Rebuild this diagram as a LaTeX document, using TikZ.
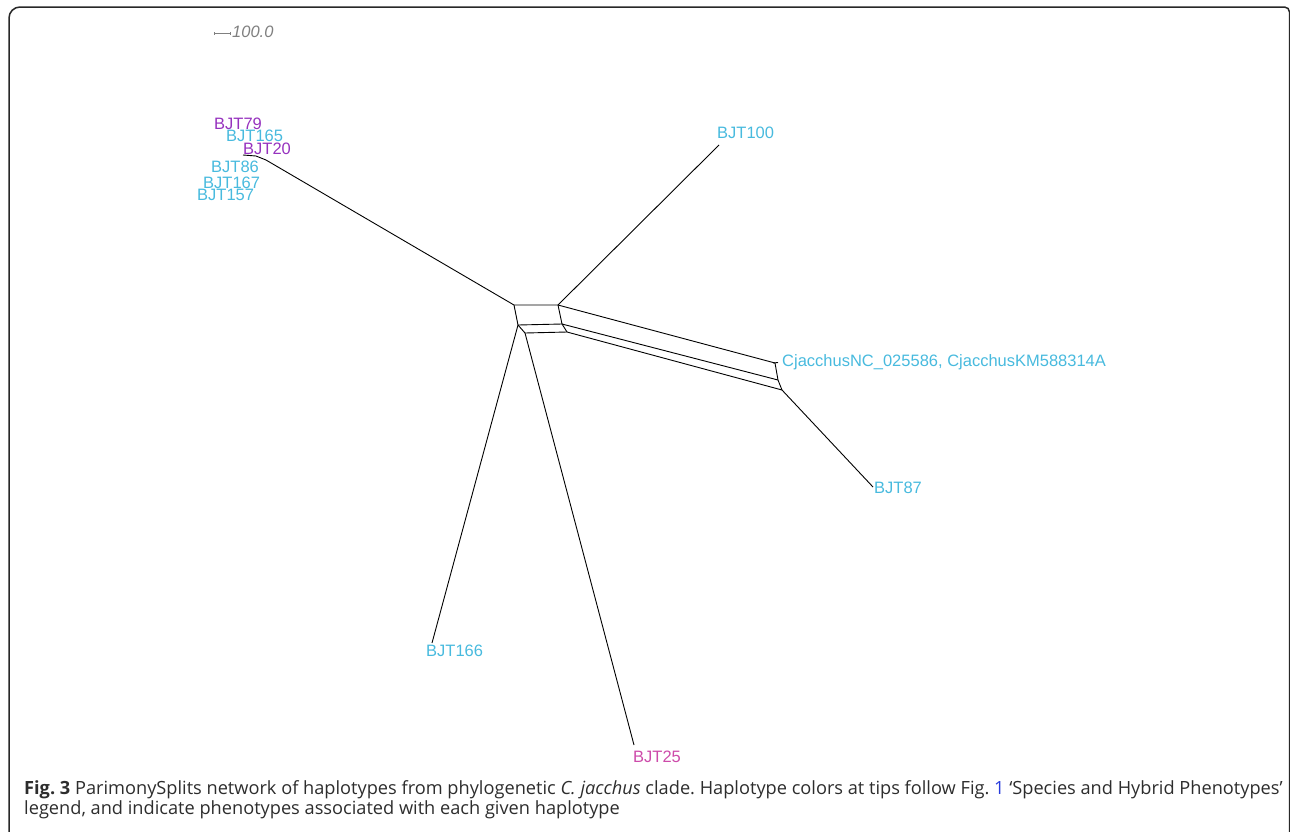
\documentclass[tikz,border=0pt]{standalone}
\usepackage{fontspec}
\setmainfont{Liberation Sans}
\newfontfamily\capfont{Open Sans}
\frenchspacing
\definecolor{tipcyan}{RGB}{72,186,222}
\definecolor{tippurple}{RGB}{150,50,190}
\definecolor{tippink}{RGB}{205,75,170}
\definecolor{capgray}{RGB}{45,45,45}
\definecolor{linkblue}{RGB}{40,60,220}
\definecolor{framegray}{RGB}{40,40,40}
\tikzset{
  net/.style={black, line width=0.9pt},
  tip/.style={anchor=base west, inner sep=0pt, font=\fontsize{16.5}{18}\selectfont},
  cyantip/.style={tip, text=tipcyan},
  purpletip/.style={tip, text=tippurple},
  pinktip/.style={tip, text=tippink},
  captext/.style={anchor=base west, inner sep=0pt, text=capgray, font=\capfont\fontsize{18.2}{20}\selectfont}
}
\begin{document}
\begin{tikzpicture}[x=1pt,y=-1pt]
\useasboundingbox (0,0) rectangle (1290,831);
\begin{scope}
\clip (0,0) rectangle (1290,831);
\draw[framegray, line width=1.5pt] (9,850) [rounded corners=11pt] -- (9,7) -- (700,7) [rounded corners=5pt] -- (1289.5,7) -- (1289.5,850);
\end{scope}
% scale bar
\coordinate (sb1) at (214,33);
\coordinate (sb2) at (230,33);
\draw[gray, line width=0.8pt] (sb1) -- (sb2);
\draw[gray, line width=0.6pt] ([yshift=-1.5pt]sb1) -- ([yshift=1.5pt]sb1);
\draw[gray, line width=0.6pt] ([yshift=-1.5pt]sb2) -- ([yshift=1.5pt]sb2);
\node[tip, text=gray, font=\fontsize{16.5}{18}\selectfont\itshape] (sbl) at (232,37) {100.0};
% network vertices
\coordinate (A) at (514,305);
\coordinate (B) at (558,305);
\coordinate (C) at (518,325);
\coordinate (D) at (562,324);
\coordinate (E) at (525,333);
\coordinate (F) at (567,332);
\coordinate (G) at (775,363);
\coordinate (H) at (778,380);
\coordinate (I) at (782,390);
\coordinate (P1) at (266,160);
\coordinate (P2) at (256,156);
\coordinate (P3) at (243,155);
\coordinate (Gt) at (778,362.5);
\coordinate (t100) at (719,145);
\coordinate (t87) at (873,487);
\coordinate (t166) at (432,643);
\coordinate (t25) at (634,745);
% labels
\node[purpletip] (l79) at (214,129) {BJT79};
\node[cyantip] (l165) at (226,141) {BJT165};
\node[purpletip] (l20) at (243,154) {BJT20};
\node[cyantip] (l86) at (211,172) {BJT86};
\node[cyantip] (l167) at (203,188) {BJT167};
\node[cyantip] (l157) at (197,200) {BJT157};
\node[cyantip] (l100) at (717,138) {BJT100};
\node[cyantip] (lcj) at (782,366) {CjacchusNC\_025586, CjacchusKM588314A};
\node[cyantip] (l87) at (874,493) {BJT87};
\node[cyantip] (l166) at (426,656) {BJT166};
\node[pinktip] (l25) at (633,762) {BJT25};
% network edges
\draw[net] (A) -- (B) (C) -- (D) (E) -- (F);
\draw[net] (A) -- (C) -- (E) (B) -- (D) -- (F);
\draw[net] (B) -- (G) (D) -- (H) (F) -- (I);
\draw[net] (G) -- (H) -- (I);
\draw[net] ([xshift=-2pt]G) -- (Gt);
\draw[net] (I) -- (t87);
\draw[net] (B) -- (t100);
\draw[net] (C) -- (t166);
\draw[net] (E) -- (t25);
\draw[net] (A) -- (P1) -- (P2) -- (P3);
% caption
\node[captext] (cap1) at (24,794) {\textbf{Fig. 3} ParimonySplits network of haplotypes from phylogenetic \textit{C. jacchus} clade. Haplotype colors at tips follow Fig. \textcolor{linkblue}{1} ‘Species and Hybrid Phenotypes’};
\node[captext] (cap2) at (24,814) {legend, and indicate phenotypes associated with each given haplotype};
\end{tikzpicture}
\end{document}
